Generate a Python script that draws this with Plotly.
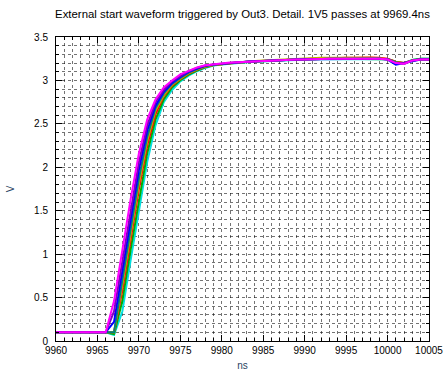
import plotly.graph_objects as go

time_ns = list(range(9960, 10006))

flat_start = [0.10] * 7  # 9960..9966

magenta = flat_start + [0.46, 1.05, 1.63, 2.16, 2.55, 2.78, 2.92, 3.00, 3.07, 3.11, 3.15, 3.174, 3.186, 3.196,
                        3.205, 3.21, 3.215, 3.22, 3.225, 3.23, 3.23, 3.235, 3.24, 3.24, 3.245, 3.245, 3.25, 3.25,
                        3.25, 3.25, 3.255, 3.25, 3.25, 3.24, 3.20, 3.19, 3.23, 3.24, 3.24]
purple = flat_start + [0.34, 0.93, 1.52, 2.06, 2.48, 2.75, 2.89, 2.99, 3.05, 3.106, 3.144, 3.171, 3.184, 3.194,
                       3.20, 3.21, 3.215, 3.22, 3.225, 3.23, 3.235, 3.235, 3.24, 3.24, 3.245, 3.25, 3.25, 3.25,
                       3.25, 3.255, 3.255, 3.255, 3.25, 3.245, 3.20, 3.20, 3.23, 3.245, 3.245]
blue = flat_start + [0.22, 0.82, 1.40, 1.97, 2.42, 2.71, 2.87, 2.97, 3.04, 3.098, 3.137, 3.168, 3.182, 3.192,
                     3.20, 3.205, 3.215, 3.22, 3.225, 3.23, 3.23, 3.235, 3.24, 3.245, 3.245, 3.245, 3.25, 3.25,
                     3.25, 3.25, 3.25, 3.25, 3.25, 3.24, 3.18, 3.20, 3.22, 3.24, 3.24]
teal = flat_start + [0.10, 0.70, 1.28, 1.87, 2.35, 2.68, 2.85, 2.96, 3.03, 3.09, 3.13, 3.165, 3.18, 3.19,
                     3.205, 3.21, 3.215, 3.22, 3.225, 3.23, 3.23, 3.235, 3.24, 3.24, 3.245, 3.245, 3.25, 3.25,
                     3.25, 3.25, 3.255, 3.255, 3.25, 3.245, 3.21, 3.19, 3.23, 3.245, 3.245]
olive = flat_start + [0.10, 0.64, 1.22, 1.81, 2.30, 2.65, 2.83, 2.95, 3.02, 3.084, 3.126, 3.161, 3.178, 3.189,
                      3.20, 3.21, 3.22, 3.225, 3.23, 3.235, 3.24, 3.245, 3.25, 3.25, 3.255, 3.26, 3.26, 3.26,
                      3.26, 3.26, 3.265, 3.26, 3.255, 3.245, 3.21, 3.20, 3.23, 3.24, 3.24]
red = flat_start + [0.10, 0.58, 1.16, 1.75, 2.25, 2.61, 2.82, 2.94, 3.016, 3.078, 3.122, 3.158, 3.177, 3.188,
                    3.20, 3.21, 3.215, 3.22, 3.225, 3.23, 3.235, 3.24, 3.245, 3.25, 3.25, 3.25, 3.255, 3.255,
                    3.26, 3.26, 3.265, 3.265, 3.26, 3.25, 3.215, 3.20, 3.23, 3.24, 3.24]
green = flat_start + [0.08, 0.46, 1.05, 1.63, 2.16, 2.55, 2.78, 2.92, 3.002, 3.066, 3.114, 3.151, 3.174, 3.186,
                      3.20, 3.205, 3.21, 3.22, 3.225, 3.23, 3.23, 3.235, 3.24, 3.24, 3.245, 3.245, 3.25, 3.25,
                      3.25, 3.25, 3.25, 3.25, 3.25, 3.245, 3.215, 3.195, 3.235, 3.25, 3.25]
cyan = flat_start + [0.07, 0.34, 0.93, 1.52, 2.06, 2.48, 2.75, 2.89, 2.99, 3.054, 3.106, 3.144, 3.171, 3.184,
                     3.195, 3.205, 3.21, 3.215, 3.22, 3.225, 3.23, 3.235, 3.24, 3.24, 3.245, 3.245, 3.245, 3.25,
                     3.25, 3.25, 3.25, 3.25, 3.25, 3.245, 3.215, 3.20, 3.235, 3.25, 3.25]

series = [
    ("cyan", cyan, "#00e0e0"),
    ("green", green, "#00b000"),
    ("red", red, "#ff0000"),
    ("olive", olive, "#c0b000"),
    ("teal", teal, "#008080"),
    ("blue", blue, "#0000ff"),
    ("purple", purple, "#8000c0"),
    ("magenta", magenta, "#ff00ff"),
]

fig = go.Figure()
for name, vals, col in series:
    fig.add_trace(go.Scatter(x=time_ns, y=vals, mode="lines", name=name,
                             line=dict(color=col, width=2), showlegend=False))

font = "Liberation Sans, Arial, sans-serif"
grid_col = "rgba(0,0,0,0.55)"
axis_common = dict(
    automargin=False,
    showline=True, linecolor="black", linewidth=1, mirror="ticks",
    ticks="inside", ticklen=6, tickcolor="black", tickwidth=1,
    showgrid=True, gridcolor=grid_col, griddash="dot", gridwidth=1,
    zeroline=False, tickfont=dict(family=font, size=10, color="black"),
    ticklabeloverflow="allow",
)

fig.update_layout(
    width=443, height=372,
    margin=dict(l=56, r=14, t=37, b=31, autoexpand=False),
    paper_bgcolor="white", plot_bgcolor="white",
    title=dict(text="External start waveform triggered by Out3. Detail. 1V5 passes at 9969.4ns",
               x=0.5, xref="paper", y=1 - 14 / 372, yanchor="middle",
               font=dict(family=font, size=11.4, color="black")),
    xaxis=dict(range=[9960, 10005], dtick=5, tick0=9960, tickformat="d",
               title=dict(text="ns", standoff=6, font=dict(family=font, size=10)),
               minor=dict(dtick=1, ticks="inside", ticklen=3, tickcolor="black",
                          showgrid=True, gridcolor=grid_col, griddash="dot", gridwidth=1),
               **axis_common),
    yaxis=dict(range=[0, 3.5], dtick=0.5, tick0=0, ticklabelstandoff=5,
               title=dict(text="V", standoff=17, font=dict(family=font, size=10)),
               minor=dict(dtick=0.1, ticks="inside", ticklen=3, tickcolor="black",
                          showgrid=True, gridcolor=grid_col, griddash="dot", gridwidth=1),
               **axis_common),
)

fig.write_html("out.html")
